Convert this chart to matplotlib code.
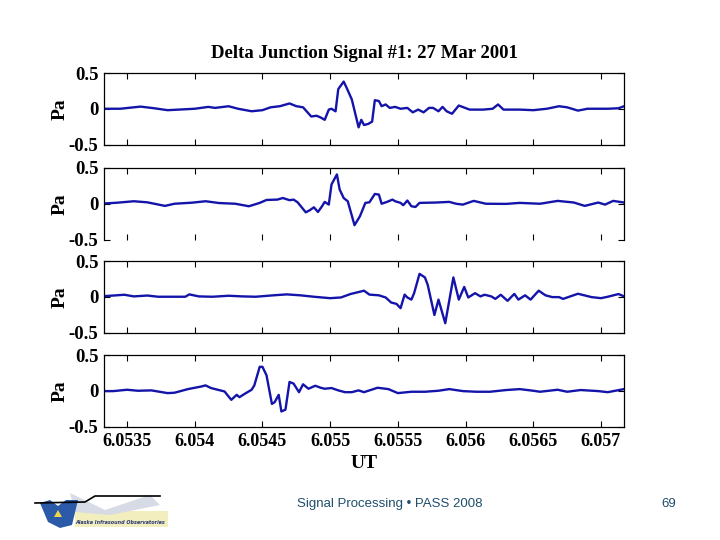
import matplotlib
matplotlib.use("Agg")
import matplotlib.pyplot as plt
from matplotlib.patches import Polygon, Rectangle

plt.rcParams['axes.unicode_minus'] = False

title = "Delta Junction Signal #1: 27 Mar 2001"
x_ticks = [6.0535, 6.054, 6.0545, 6.055, 6.0555, 6.056, 6.0565, 6.057]
x_tick_labels = ["6.0535", "6.054", "6.0545", "6.055", "6.0555", "6.056", "6.0565", "6.057"]
y_ticks = [-0.5, 0, 0.5]
y_tick_labels = ["-0.5", "0", "0.5"]
xlim = (6.05333, 6.05717)

# Panel 1
t1 = [6.05330, 6.05345, 6.05360, 6.05370, 6.05380, 6.05390, 6.05400, 6.05410, 6.05415, 6.05425,
      6.05432, 6.05442, 6.05450, 6.05456, 6.05463, 6.05470, 6.05475, 6.05480, 6.05486, 6.05490,
      6.05493, 6.05496, 6.05499, 6.05501, 6.05504, 6.05506, 6.05510, 6.05512, 6.05516, 6.05521,
      6.05523, 6.05525, 6.05528, 6.05531, 6.05533, 6.05536, 6.05538, 6.05541, 6.05544, 6.05548,
      6.05552, 6.05557, 6.05561, 6.05565, 6.05569, 6.05573, 6.05576, 6.05580, 6.05583, 6.05586,
      6.05590, 6.05595, 6.05603, 6.05613, 6.05620, 6.05624, 6.05628, 6.05640, 6.05650, 6.05660,
      6.05669, 6.05675, 6.05683, 6.05690, 6.05705, 6.05713, 6.05717]
p1 = [0.0, 0.0, 0.03, 0.007, -0.02, -0.01, 0.0, 0.026, 0.012, 0.035,
      0.0, -0.035, -0.02, 0.02, 0.036, 0.074, 0.036, 0.02, -0.108, -0.098,
      -0.122, -0.155, -0.012, 0.0, -0.036, 0.275, 0.38, 0.30, 0.13, -0.26,
      -0.155, -0.227, -0.213, -0.18, 0.12, 0.108, 0.036, 0.06, 0.012, 0.026,
      0.0, 0.012, -0.05, -0.012, -0.05, 0.012, 0.012, -0.035, 0.026, -0.035,
      -0.07, 0.045, -0.012, -0.012, 0.0, 0.06, -0.012, -0.012, -0.02, 0.0,
      0.035, 0.02, -0.026, 0.0, 0.0, 0.007, 0.035]

# Panel 2
t2 = [6.05330, 6.05343, 6.05355, 6.05365, 6.05378, 6.05385, 6.05398, 6.05408, 6.05418, 6.05430,
      6.05440, 6.05448, 6.05453, 6.05461, 6.05465, 6.05470, 6.05473, 6.05476, 6.05482, 6.05485,
      6.05488, 6.05491, 6.05494, 6.05496, 6.05499, 6.05501, 6.05505, 6.05507, 6.05510, 6.05513,
      6.05518, 6.05522, 6.05526, 6.05529, 6.05533, 6.05536, 6.05538, 6.05542, 6.05546, 6.05548,
      6.05552, 6.05554, 6.05557, 6.05560, 6.05563, 6.05566, 6.05578, 6.05588, 6.05593, 6.05598,
      6.05606, 6.05615, 6.05630, 6.05640, 6.05655, 6.05668, 6.05680, 6.05688, 6.05698, 6.05703,
      6.05709, 6.05717]
p2 = [0.0, 0.015, 0.035, 0.02, -0.03, 0.0, 0.015, 0.035, 0.01, 0.0,
      -0.035, 0.012, 0.053, 0.058, 0.08, 0.05, 0.058, 0.02, -0.12, -0.09,
      -0.05, -0.115, -0.035, 0.026, -0.012, 0.27, 0.41, 0.2, 0.08, 0.035,
      -0.30, -0.175, 0.012, 0.02, 0.137, 0.128, 0.0, 0.026, 0.058, 0.035,
      0.012, -0.02, 0.045, -0.035, -0.045, 0.012, 0.017, 0.026, 0.0, -0.012,
      0.04, 0.0, -0.002, 0.012, 0.0, 0.04, 0.017, -0.03, 0.017, -0.012,
      0.04, 0.017]

# Panel 3
t3 = [6.05330, 6.05340, 6.05348, 6.05355, 6.05365, 6.05373, 6.05393, 6.05396, 6.05403, 6.05413,
      6.05425, 6.05435, 6.05445, 6.05458, 6.05468, 6.05478, 6.05488, 6.05500, 6.05508, 6.05515,
      6.05523, 6.05525, 6.05529, 6.05536, 6.05541, 6.05545, 6.05549, 6.05552, 6.05555, 6.05557,
      6.05560, 6.05562, 6.05566, 6.05570, 6.05572, 6.05577, 6.05580, 6.05585, 6.05591, 6.05595,
      6.05599, 6.05602, 6.05607, 6.05611, 6.05614, 6.05619, 6.05622, 6.05626, 6.05631, 6.05636,
      6.05639, 6.05644, 6.05648, 6.05654, 6.05659, 6.05664, 6.05669, 6.05672, 6.05683, 6.05693,
      6.05700, 6.05705, 6.05713, 6.05717]
p3 = [0.005, 0.017, 0.028, 0.005, 0.017, 0.0, 0.0, 0.033, 0.005, 0.0,
      0.014, 0.005, 0.0, 0.02, 0.033, 0.02, 0.0, -0.02, -0.01, 0.038,
      0.075, 0.085, 0.03, 0.02, -0.01, -0.08, -0.1, -0.16, 0.03, -0.01,
      -0.04, 0.05, 0.32, 0.27, 0.17, -0.255, -0.04, -0.37, 0.27, -0.04,
      0.137, -0.01, 0.05, 0.005, 0.028, 0.005, -0.03, 0.028, -0.057, 0.04,
      -0.04, 0.02, -0.04, 0.085, 0.02, -0.005, -0.005, -0.03, 0.042, -0.005,
      -0.02, 0.0, 0.038, 0.005]

# Panel 4
t4 = [6.05330, 6.05340, 6.05350, 6.05358, 6.05368, 6.05380, 6.05385, 6.05395, 6.05405, 6.05408,
      6.05412, 6.05417, 6.05422, 6.05427, 6.05431, 6.05433, 6.05437, 6.05442, 6.05444, 6.05448,
      6.05450, 6.05453, 6.05457, 6.05459, 6.05462, 6.05464, 6.05467, 6.05470, 6.05473, 6.05477,
      6.05480, 6.05484, 6.05489, 6.05493, 6.05496, 6.05501, 6.05506, 6.05511, 6.05516, 6.05521,
      6.05525, 6.05535, 6.05543, 6.05550, 6.05560, 6.05570, 6.05580, 6.05588, 6.05598, 6.05608,
      6.05618, 6.05630, 6.05640, 6.05650, 6.05655, 6.05668, 6.05675, 6.05685, 6.05698, 6.05705,
      6.05717]
p4 = [-0.005, -0.005, 0.014, 0.0, 0.005, -0.033, -0.028, 0.023, 0.06, 0.075,
      0.038, 0.014, -0.01, -0.127, -0.057, -0.09, -0.042, 0.014, 0.075, 0.335,
      0.335, 0.217, -0.184, -0.16, -0.057, -0.29, -0.264, 0.123, 0.1, -0.02,
      0.09, 0.028, 0.07, 0.042, 0.028, 0.038, 0.005, -0.02, -0.02, 0.005,
      -0.02, 0.042, 0.023, -0.033, -0.014, -0.014, 0.0, 0.023, -0.005, -0.014,
      -0.014, 0.01, 0.023, 0.0, -0.014, 0.014, -0.014, 0.01, -0.005, -0.02,
      0.023]

series = [(t1, p1), (t2, p2), (t3, p3), (t4, p4)]

footer = "Signal Processing \u2022 PASS 2008"
page = "69"

serif = "Liberation Serif"
line_color = "#1414aa"

fig = plt.figure(figsize=(7.2, 5.4), dpi=100)
W, H = 720.0, 540.0
left, width = 104 / W, 520 / W
tops = [73, 168, 261, 355]
hpx = 71.5

for i, (t, p) in enumerate(series):
    bottom = 1 - (tops[i] + hpx) / H
    ax = fig.add_axes([left, bottom, width, hpx / H])
    ax.plot(t, p, color=line_color, lw=1.7)
    ax.set_xlim(*xlim)
    ax.set_ylim(-0.5, 0.5)
    ax.set_xticks(x_ticks)
    ax.set_yticks(y_ticks)
    ax.set_yticklabels(y_tick_labels, fontfamily=serif, fontweight='bold', fontsize=13.5)
    ax.tick_params(axis='both', direction='in', length=4, width=0.8, top=True, right=True)
    ax.tick_params(axis='x', pad=5)
    ax.tick_params(axis='y', pad=4)
    if i == 3:
        ax.set_xticklabels(x_tick_labels, fontfamily=serif, fontweight='bold', fontsize=13)
        ax.set_xlabel("UT", fontfamily=serif, fontweight='bold', fontsize=14, labelpad=3)
    else:
        ax.set_xticklabels([])
    if i == 1:
        ax.spines['bottom'].set_visible(False)
    ax.set_ylabel("Pa", fontfamily=serif, fontweight='bold', fontsize=14)
    ax.yaxis.set_label_coords(-0.068, 0.5)
    for s in ax.spines.values():
        s.set_linewidth(0.9)

fig.text(364 / W, 1 - 53 / H, title, ha='center', va='center',
         fontfamily=serif, fontweight='bold', fontsize=13.5)

fig.text(390 / W, 1 - 504 / H, footer, ha='center', va='center',
         fontfamily="Liberation Sans", fontsize=9.5, color="#1f4e6b")
fig.text(669 / W, 1 - 504 / H, page, ha='center', va='center',
         fontfamily="Liberation Sans", fontsize=9.5, color="#1f4e6b")

# simple logo approximation
lax = fig.add_axes([0, 0, 1, 1], facecolor='none')
lax.set_xlim(0, W)
lax.set_ylim(H, 0)
lax.axis('off')
lax.add_patch(Rectangle((75, 511), 93, 16, facecolor="#f3eebd", edgecolor='none'))
lax.add_patch(Polygon([(70, 493), (105, 510), (150, 495), (160, 505), (110, 515), (75, 512)],
                      closed=True, facecolor="#d7dbe6", edgecolor='none'))
lax.add_patch(Polygon([(40, 503), (50, 500), (58, 506), (66, 500), (78, 500), (72, 525), (60, 528), (48, 522)],
                      closed=True, facecolor="#2a5aa8", edgecolor='none'))
lax.plot([35, 85, 95, 160], [503, 502, 496, 496], color='black', lw=1.2)
lax.add_patch(Polygon([(54, 517), (58, 510), (62, 517)], closed=True, facecolor="#f2d34a", edgecolor='none'))
lax.text(120, 522, "Alaska Infrasound Observatories", ha='center', va='center',
         fontsize=3.5, color="#2a3a7a", fontstyle='italic', fontweight='bold')

fig.savefig("out.png", dpi=100)
